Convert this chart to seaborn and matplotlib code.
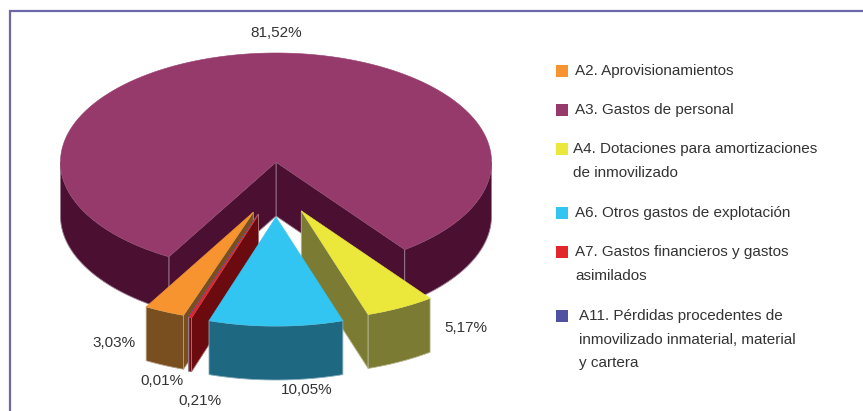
import numpy as np
import matplotlib
matplotlib.use("Agg")
import matplotlib.pyplot as plt
from matplotlib.patches import Polygon, Rectangle
import seaborn as sns

# ---- data -------------------------------------------------------------
categories = [
    "A2. Aprovisionamientos",
    "A3. Gastos de personal",
    "A4. Dotaciones para amortizaciones\nde inmovilizado",
    "A6. Otros gastos de explotación",
    "A7. Gastos financieros y gastos\nasimilados",
    "A11. Pérdidas procedentes de\ninmovilizado inmaterial, material\ny cartera",
]
shares = [3.03, 81.52, 5.17, 10.05, 0.21, 0.01]
value_labels = ["3,03%", "81,52%", "5,17%", "10,05%", "0,21%", "0,01%"]
top_hex = ["#f7942f", "#963a6c", "#ebe83b", "#33c5f2", "#e3262b", "#5151a2"]
side_hex = ["#7a4f1f", "#4a0f31", "#7b7b33", "#1f6882", "#6b0b0f", "#2a2a60"]

# ---- style ------------------------------------------------------------
sns.set_style("white")
plt.rcParams["font.family"] = ["Liberation Sans", "DejaVu Sans"]
text_color = "#333333"
top_pal = sns.color_palette(top_hex)
side_pal = sns.color_palette(side_hex)

W, H = 863, 411
fig = plt.figure(figsize=(W / 100, H / 100), dpi=100)
ax = fig.add_axes([0, 0, 1, 1])
ax.set_xlim(0, W)
ax.set_ylim(H, 0)
ax.axis("off")

# ---- 3D pie geometry (pixel units) ------------------------------------
cx, cy = 276, 162
rx, ry = 215.5, 109
depth = 54
explode_dist = 55
start_angle = 251.1  # slices run clockwise from here

total = sum(shares)
spans = np.array(shares) / total * 360.0
hi = start_angle - np.concatenate([[0.0], np.cumsum(spans)[:-1]])
lo = hi - spans
mid = (hi + lo) / 2
explode = [0 if i == 1 else explode_dist for i in range(len(shares))]


def rim(ox, oy, t, dz=0.0):
    t = np.radians(np.atleast_1d(t))
    return np.column_stack([ox + rx * np.cos(t), oy - ry * np.sin(t) + dz])


def arc(ox, oy, t0, t1, dz=0.0):
    n = max(2, int(abs(t1 - t0) * 2) + 2)
    return rim(ox, oy, np.linspace(t0, t1, n), dz)


def front_ranges(t0, t1):
    out = []
    for k in range(-3, 3):
        a, b = 180 + 360 * k, 360 + 360 * k
        s, e = max(a, t0), min(b, t1)
        if e > s:
            out.append((s, e))
    return out


def lighten(c, f=0.45):
    c = np.array(c)
    return tuple(c + (1 - c) * f)


order = sorted(range(len(shares)),
               key=lambda i: (explode[i] > 0, -np.sin(np.radians(mid[i]))))

for i in order:
    m = np.radians(mid[i])
    ox = cx + explode[i] * np.cos(m)
    oy = cy - explode[i] * np.sin(m)
    side = side_pal[i]
    edge = lighten(side)
    apex = np.array([[ox, oy]])
    apex_low = np.array([[ox, oy + depth]])

    # radial cut faces
    for t, visible in ((lo[i], np.cos(np.radians(lo[i])) > 0),
                       (hi[i], np.cos(np.radians(hi[i])) < 0)):
        if visible:
            pts = np.vstack([apex, rim(ox, oy, t), rim(ox, oy, t, depth), apex_low])
            ax.add_patch(Polygon(pts, closed=True, facecolor=side,
                                 edgecolor=edge, linewidth=0.6, zorder=2))

    # outer curved wall
    for s, e in front_ranges(lo[i], hi[i]):
        pts = np.vstack([arc(ox, oy, s, e), arc(ox, oy, e, s, depth)])
        ax.add_patch(Polygon(pts, closed=True, facecolor=side,
                             edgecolor=edge, linewidth=0.6, zorder=2))

    # top face
    pts = np.vstack([apex, arc(ox, oy, lo[i], hi[i])])
    ax.add_patch(Polygon(pts, closed=True, facecolor=top_pal[i],
                         edgecolor=top_pal[i], linewidth=0.4, zorder=2))

# ---- value labels -----------------------------------------------------
label_pos = [(114, 343), (276, 33), (466, 328), (307, 390), (200, 401), (162, 381)]
for (x, y), txt in zip(label_pos, value_labels):
    ax.text(x, y, txt, ha="center", va="center", fontsize=11,
            color=text_color, zorder=5)

# ---- legend -----------------------------------------------------------
legend_y = [71, 110, 149, 213, 252, 316]
legend_x = [575, 575, 573, 575, 575, 579]
line_gap = 23.5
for i, lab in enumerate(categories):
    ax.add_patch(Rectangle((556, legend_y[i] - 6), 12, 12,
                           facecolor=top_pal[i], edgecolor="none", zorder=5))
    for j, line in enumerate(lab.split("\n")):
        ax.text(legend_x[i], legend_y[i] + j * line_gap, line, ha="left",
                va="center", fontsize=11, color=text_color, zorder=5)

# ---- frame ------------------------------------------------------------
ax.plot([10, 10, W + 2], [H + 2, 11.5, 11.5], color="#6b67a8", lw=1.6,
        solid_joinstyle="miter", zorder=6)

fig.savefig("out.png", dpi=100, facecolor="white")
